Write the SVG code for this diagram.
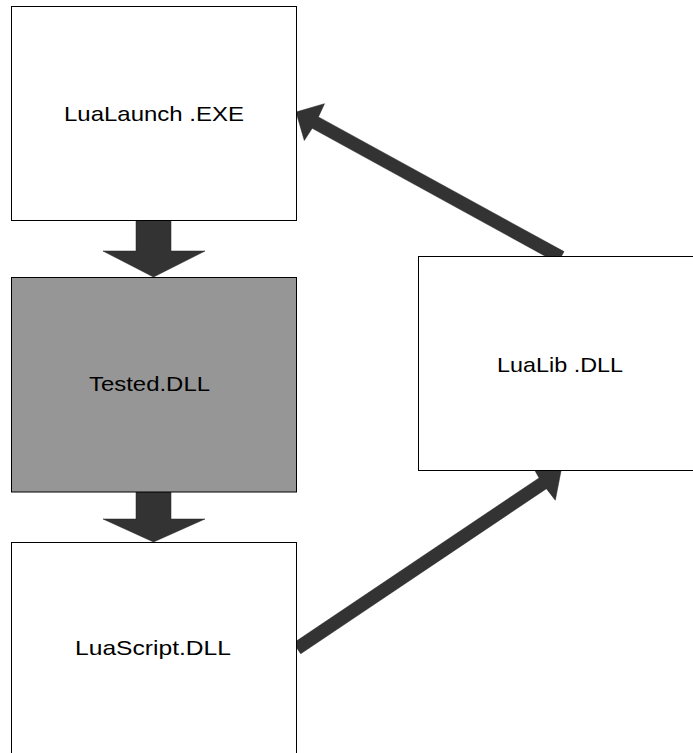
<svg xmlns="http://www.w3.org/2000/svg" width="693" height="753" viewBox="0 0 693 753">
<style>
.box{fill:#ffffff;stroke:#000000;stroke-width:1}
.grey{fill:#969696}
.arr{fill:#333333;stroke:#222222;stroke-width:0.5}
.lbl{font-family:"Liberation Sans",Arial,sans-serif;font-size:21px;fill:#000000}
</style>
<rect width="693" height="753" fill="#ffffff"/>
<g id="connectors">
<polygon class="arr" points="136,220 171,220 171,251 205,251 153.5,277 103,251 136,251"/>
<polygon class="arr" points="136,492 171,492 171,519 205,519 153.5,542 103,519 136,519"/>
<polygon class="arr" points="296,112 324.5,103.7 318.4,116.9 564,251.6 557.7,263 312.2,128.3 304.3,140.5"/>
<polygon class="arr" points="561,471 555.3,500.2 546.4,488.7 300.7,653.8 293.5,643 539.1,477.9 531.9,465.3"/>
</g>
<g id="lualaunch">
<rect class="box" x="11.5" y="6.5" width="285" height="214"/>
<text class="lbl" x="64" y="120.5" textLength="180" lengthAdjust="spacingAndGlyphs">LuaLaunch .EXE</text>
</g>
<g id="tested">
<rect class="box grey" x="11.5" y="277.5" width="285" height="214.5"/>
<text class="lbl" x="89" y="391" textLength="121" lengthAdjust="spacingAndGlyphs">Tested.DLL</text>
</g>
<g id="luascript">
<rect class="box" x="11.5" y="542.5" width="285" height="214"/>
<text class="lbl" x="75" y="655" textLength="156" lengthAdjust="spacingAndGlyphs">LuaScript.DLL</text>
</g>
<g id="lualib">
<rect class="box" x="418.5" y="256.5" width="285" height="214"/>
<text class="lbl" x="497" y="371.5" textLength="126" lengthAdjust="spacingAndGlyphs">LuaLib .DLL</text>
</g>
</svg>
